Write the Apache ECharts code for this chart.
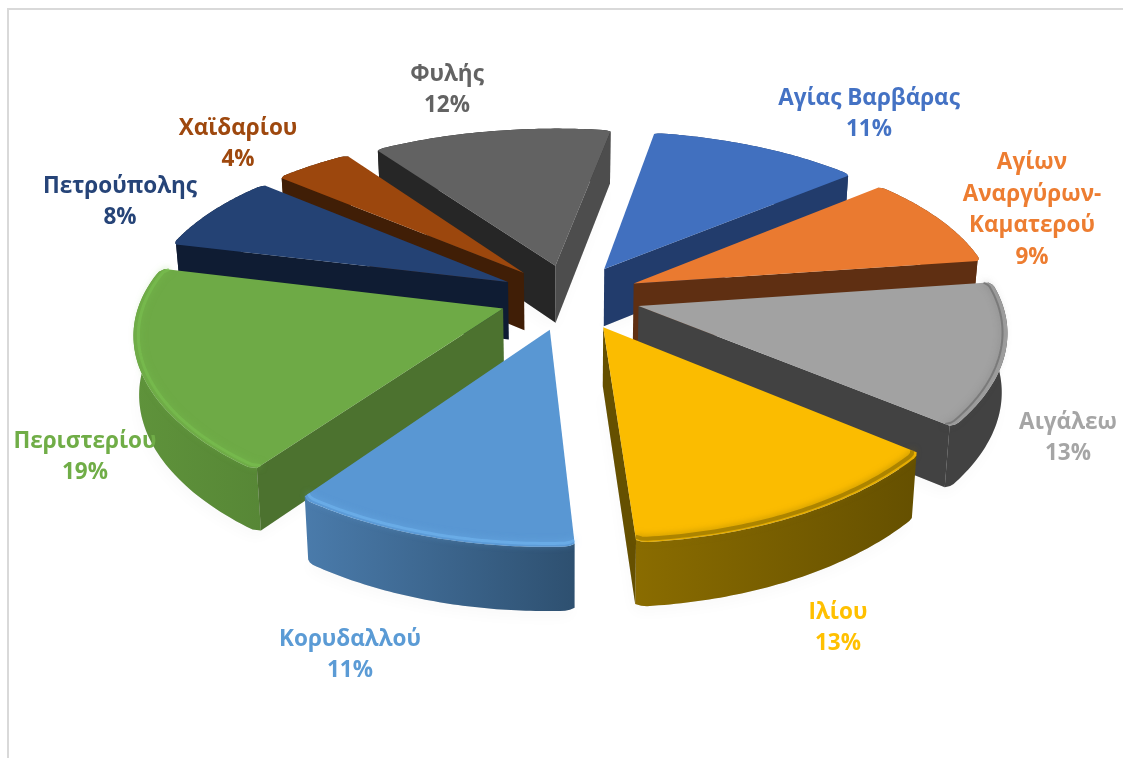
<!DOCTYPE html>
<html><head><meta charset="utf-8">
<style>html,body{margin:0;padding:0;background:#fff}#c{width:1123px;height:758px}</style>
<script src="https://cdn.jsdelivr.net/npm/echarts@6/dist/echarts.min.js"></script>
</head><body><div id="c"></div>
<script>
const categories = ['Αγίας Βαρβάρας','Αγίων\nΑναργύρων-\nΚαματερού','Αιγάλεω','Ιλίου','Κορυδαλλού','Περιστερίου','Πετρούπολης','Χαϊδαρίου','Φυλής'];
const shares = [11.0,9.0,13.1,13.1,11.1,18.8,7.5,4.1,12.3];

const topColors  = ['#4170BF','#EA7A30','#A2A2A2','#FBBC00','#5997D3','#6EAA46','#244274','#9C470D','#626262'];
const textColors = ['#4472C4','#ED7D31','#A5A5A5','#FFC000','#5B9BD5','#70AD47','#264478','#9E480E','#636363'];
const wallColors = ['#223C6C','#5F2F12','#424242','#655000','#3B6A97','#4C722F','#0F1C33','#401E06','#262626'];
const wallColors2= ['#223C6C','#5F2F12','#424242','#655000','#3B6A97','#4C722F','#0F1C33','#401E06','#4D4D4D'];
const arcLeft    = ['#223C6C','#5F2F12','#424242','#8A6C00','#4A7BAB','#5F933B','#0F1C33','#401E06','#262626'];
const arcRight   = ['#223C6C','#5F2F12','#424242','#655000','#2E5070','#578736','#0F1C33','#401E06','#262626'];
const rimColors  = [null,null,'#666666','#8A6C00','#72B6F0','#7AC050',null,null,null];
const rimWidths  = [0,0,2,4,3,3,0,0,0];

// projection layout
const P = {cx:570, cy:297, S:362, Sy:357, k:0.474, a:0.165, ax:0.13, e:0.195, start:9.9, H:58, hs:0.09, sq:0.987, tip:1.5, tipCut:0.01};
const labelPos = [[869,114],[1032,210],[1068,438],[838,628],[350,655],[85,457],[120,202],[238,144],[447,90]];

const total = shares.reduce((a,b)=>a+b,0);
function proj(X,Y,bottom){
  let x = P.cx + P.S*X/(1-P.ax*Y), y = P.cy + P.Sy*P.k*Y/(1-P.a*Y);
  if(bottom){ x = P.cx + (x-P.cx)*P.sq; y += P.H*(1+P.hs*Y); }
  return [x,y];
}
function signedArea(pts){
  let A=0;
  for(let i=0;i<pts.length;i++){const p=pts[i],q=pts[(i+1)%pts.length];A+=p[0]*q[1]-q[0]*p[1];}
  return A;
}
function renderItem(params,api){
  const i = params.dataIndex;
  const v = api.value(0);
  let cum = 0; for(let j=0;j<i;j++) cum += shares[j];
  const rad = d=>d*Math.PI/180;
  const a0 = rad(P.start+cum/total*360), a1 = rad(P.start+(cum+v)/total*360), am=(a0+a1)/2;
  const ox = P.e*Math.sin(am), oy = -P.e*Math.cos(am);
  const depth = Math.round((-Math.cos(am)+1)*500)*10 + 100;
  const pt=(r,a,b)=>proj(ox+r*Math.sin(a),oy-r*Math.cos(a),b);
  const N=60, arcTop=[], arcBot=[], rimIn=[];
  const tipR = rad(P.tip);
  for(let n=0;n<=N;n++){
    const a=a0+(a1-a0)*n/N;
    const d=Math.min(a-a0,a1-a);
    const cut = d<tipR ? P.tipCut*Math.pow(1-d/tipR,2) : 0;
    arcTop.push(pt(1-cut,a,false)); arcBot.push(pt(1-cut,a,true)); rimIn.push(pt(0.987-cut,a,false));
  }
  const apex=proj(ox,oy,false), apexB=proj(ox,oy,true);
  const children=[];
  children.push({type:'polygon',z2:1,shape:{points:[apexB].concat(arcBot)},
    style:{fill:'rgba(0,0,0,0.10)',shadowBlur:14,shadowColor:'rgba(0,0,0,0.22)',shadowOffsetY:7,shadowOffsetX:-2}});
  children.push({type:'polygon',z2:depth,shape:{points:arcTop.concat(arcBot.slice().reverse())},
    style:{fill:new echarts.graphic.LinearGradient(0,0,1,0,[{offset:0,color:arcLeft[i]},{offset:1,color:arcRight[i]}])}});
  const w0=[apex,arcTop[0],arcBot[0],apexB], w1=[apex,arcTop[N],arcBot[N],apexB];
  if(signedArea(w0)<0) children.push({type:'polygon',z2:depth+1,shape:{points:w0},style:{fill:wallColors[i]}});
  if(signedArea(w1)>0) children.push({type:'polygon',z2:depth+1,shape:{points:w1},style:{fill:wallColors2[i]}});
  children.push({type:'polygon',z2:depth+2,shape:{points:[apex].concat(arcTop)},style:{fill:topColors[i]}});
  if(rimColors[i]){
    children.push({type:'polyline',z2:depth+3,shape:{points:rimIn},
      style:{fill:'none',stroke:rimColors[i],lineWidth:rimWidths[i],shadowBlur:7,shadowColor:rimColors[i],opacity:0.6}});
  }
  children.push({type:'text',z2:9000,style:{
    text:categories[i]+'\n'+Math.round(v)+'%',x:labelPos[i][0],y:labelPos[i][1],
    fill:textColors[i],font:'bold 22.5px "Open Sans"',lineHeight:31.6,align:'center',verticalAlign:'middle'}});
  return {type:'group',children};
}
const chart = echarts.init(document.getElementById('c'),null,{renderer:'canvas'});
chart.setOption({
  animation:false,
  backgroundColor:'#fff',
  graphic:[{type:'rect',shape:{x:8,y:9,width:1300,height:900},style:{fill:'none',stroke:'#D9D9D9',lineWidth:2},silent:true}],
  series:[{type:'custom',coordinateSystem:'none',clip:false,renderItem,data:shares.map(v=>[v])}]
});
</script></body></html>
